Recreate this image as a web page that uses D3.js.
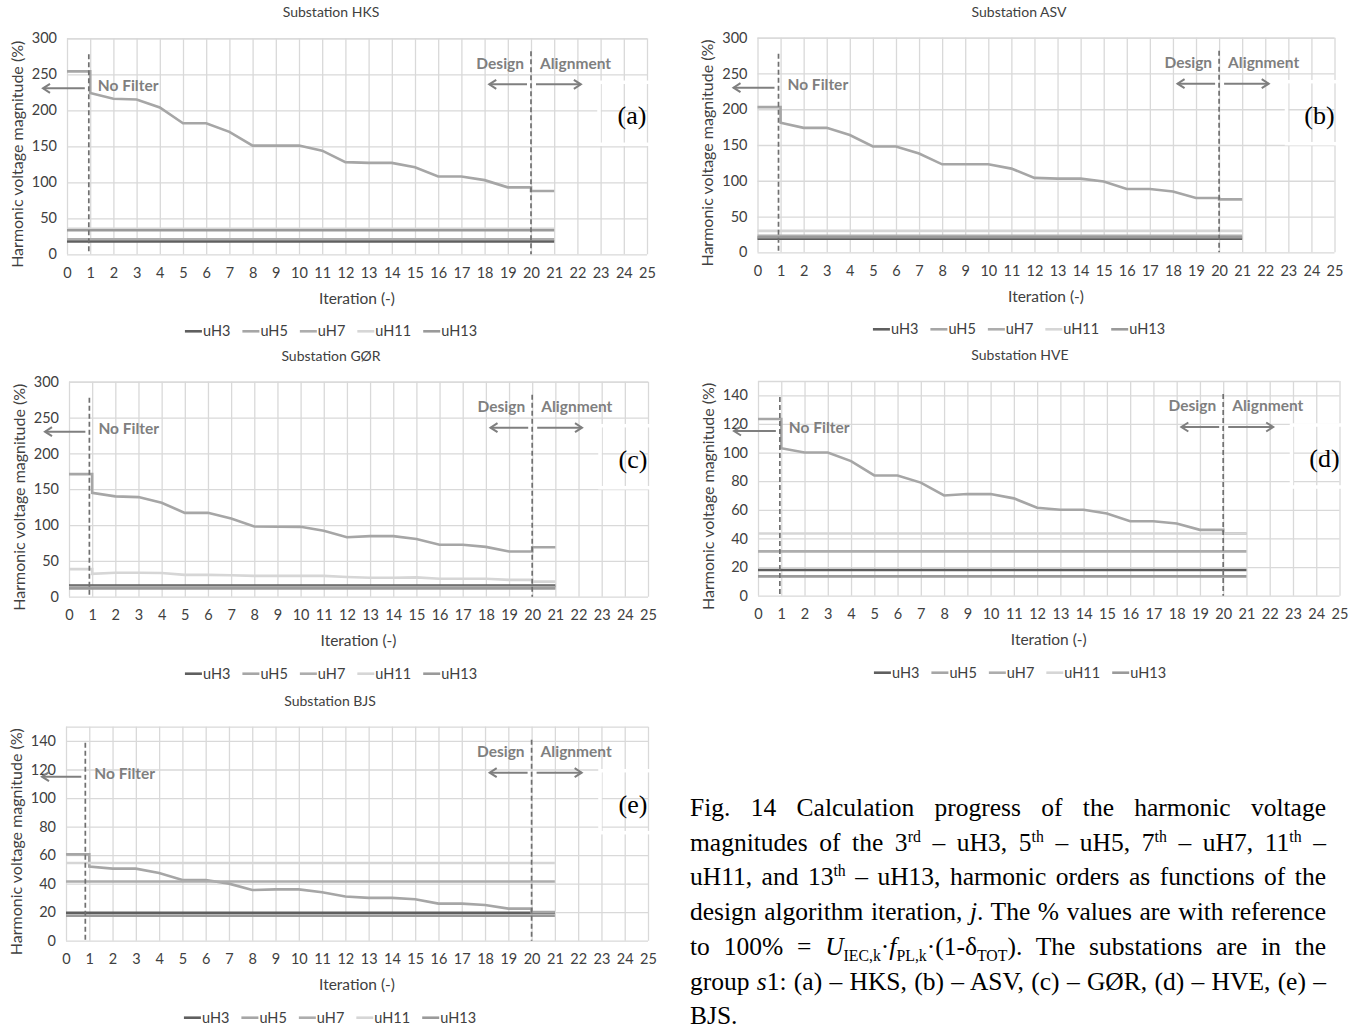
<!DOCTYPE html>
<html>
<head>
<meta charset="utf-8">
<script src="https://cdn.jsdelivr.net/npm/d3@7"></script>
<style>
  body { margin: 0; background: #fff; }
  #chart { position: absolute; left: 0; top: 0; }
  #caption {
    position: absolute; left: 690px; top: 791px; width: 636px;
    font-family: "Liberation Serif", "Times New Roman", serif;
    font-size: 25.5px; line-height: 34.7px; color: #000;
  }
  #caption div { text-align: justify; text-align-last: justify; white-space: nowrap; }
  #caption div.last { text-align-last: left; }
  #caption sup, #caption sub { font-size: 0.62em; line-height: 0; }
</style>
</head>
<body>
<svg id="chart" width="1368" height="1030"></svg>
<div id="caption"></div>
<script>
// iterations of the design algorithm (0 = no filter) and the alignment step
var iterations = [0, 1, 2, 3, 4, 5, 6, 7, 8, 9, 10, 11, 12, 13, 14, 15, 16, 17, 18, 19, 20];
var alignIterations = [20, 21];
var levelSpan = [0, 21];
var xTicks = [0, 1, 2, 3, 4, 5, 6, 7, 8, 9, 10, 11, 12, 13, 14, 15, 16, 17, 18, 19, 20, 21, 22, 23, 24, 25];
var harmonics = ['uH3', 'uH5', 'uH7', 'uH11', 'uH13'];
var substations = ['HKS', 'ASV', 'GØR', 'HVE', 'BJS'];
var tags = ['(a)', '(b)', '(c)', '(d)', '(e)'];

// HKS
var hksU5 = [254, 224, 216, 215, 204, 182, 182, 170, 151, 151, 151, 144, 128, 127, 127, 121, 108, 108, 103, 93, 93];
var hksU5Align = [88, 88];
var hksLevels = [18, null, 21, 35.5, 33.5];

// ASV
var asvU5 = [203, 181, 174, 174, 164, 148, 148, 138, 123, 123, 123, 117, 104, 103, 103, 99, 88.5, 88.5, 85, 76, 76];
var asvU5Align = [74, 74];
var asvLevels = [19, null, 23, 30, 21];

// GØR
var gorU5 = [171, 145, 140, 139, 131, 117, 117, 109, 98, 97.5, 97.5, 92, 83, 84.5, 84.5, 80.5, 72.5, 72.5, 69.5, 63, 63];
var gorU5Align = [69, 69];
var gorU11 = [38.5, 32, 33.5, 33.5, 33, 30.5, 30.5, 30, 29, 29, 29, 29, 27.5, 26.5, 26.5, 27, 25, 25, 25, 23.5, 23.5];
var gorU11Align = [21, 21];
var gorLevels = [15.5, null, 13.5, null, 11.5];

// HVE
var hveU5 = [123.5, 103, 100, 100, 94, 84, 84, 79, 70, 71, 71, 68, 61.5, 60, 60, 57.5, 52, 52, 50.5, 46, 46];
var hveU5Align = [43.5, 43.5];
var hveLevels = [18, null, 31, 43.5, 13.5];

// BJS
var bjsU5 = [60.5, 52, 50.5, 50.5, 47.5, 42.5, 42.5, 40, 35.5, 36, 36, 34, 31, 30, 30, 29, 26, 26, 25, 22.5, 22.5];
var bjsU5Align = [20, 20];
var bjsLevels = [19.5, null, 41.5, 54.5, 17.5];

var captionLines = [
  'Fig. 14 Calculation progress of the harmonic voltage',
  'magnitudes of the 3<sup>rd</sup> – uH3, 5<sup>th</sup> – uH5, 7<sup>th</sup> – uH7, 11<sup>th</sup> –',
  'uH11, and 13<sup>th</sup> – uH13, harmonic orders as functions of the',
  'design algorithm iteration, <i>j</i>. The % values are with reference',
  'to 100% = <i>U</i><sub>IEC,k</sub>·<i>f</i><sub>PL,k</sub>·(1-δ<sub>TOT</sub>). The substations are in the',
  'group <i>s</i>1: (a) – HKS, (b) – ASV, (c) – GØR, (d) – HVE, (e) –',
  'BJS.'
];

var colors = ['#5f5f5f', '#a6a6a6', '#adadad', '#d6d6d6', '#9a9a9a'];
var FONT = 'Lato, "Open Sans", sans-serif';
var gridColor = '#d9d9d9';
var noteColor = '#7f7f7f';
var textColor = '#404040';

var panels = [
  { left: 67, right: 647, top: 38.3, bottom: 254.3, cx: 331, yMax: 300, yStep: 50, nf: 0.94,
    series: { uH5: [hksU5, hksU5Align] }, levels: hksLevels },
  { left: 757.5, right: 1334.5, top: 37.7, bottom: 252.3, cx: 1019, yMax: 300, yStep: 50, nf: 0.91,
    series: { uH5: [asvU5, asvU5Align] }, levels: asvLevels },
  { left: 69, right: 648, top: 381.7, bottom: 596.7, cx: 331, yMax: 300, yStep: 50, nf: 0.88,
    series: { uH5: [gorU5, gorU5Align], uH11: [gorU11, gorU11Align] }, levels: gorLevels },
  { left: 758, right: 1339.5, top: 381, bottom: 595.7, cx: 1020, yMax: 150, yStep: 20, nf: 0.94,
    series: { uH5: [hveU5, hveU5Align] }, levels: hveLevels },
  { left: 66, right: 648, top: 726.7, bottom: 940.7, cx: 330, yMax: 150, yStep: 20, nf: 0.83,
    series: { uH5: [bjsU5, bjsU5Align] }, levels: bjsLevels }
];

var svg = d3.select('#chart');

function arrow(g, x1, x2, y) {
  var dir = x2 > x1 ? 1 : -1;
  g.append('line').attr('x1', x1).attr('x2', x2).attr('y1', y).attr('y2', y)
    .attr('stroke', noteColor).attr('stroke-width', 2);
  g.append('path')
    .attr('d', 'M' + (x2 - dir * 7) + ',' + (y - 4.5) + 'L' + x2 + ',' + y + 'L' + (x2 - dir * 7) + ',' + (y + 4.5))
    .attr('fill', 'none').attr('stroke', noteColor).attr('stroke-width', 2);
}

panels.forEach(function (p, i) {
  var g = svg.append('g');
  var x = d3.scaleLinear().domain([0, 25]).range([p.left, p.right]);
  var y = d3.scaleLinear().domain([0, p.yMax]).range([p.bottom, p.top]);
  var yTicks = d3.range(0, p.yMax + 0.001, p.yStep);
  var h = p.bottom - p.top, w = p.right - p.left;

  // grid
  g.append('g').attr('transform', 'translate(' + p.left + ',0)')
    .call(d3.axisLeft(y).tickValues(yTicks.concat([p.yMax])).tickSize(-w).tickFormat(''))
    .call(function (s) { s.select('.domain').remove(); s.selectAll('line').attr('stroke', gridColor).attr('stroke-width', 1.3); });
  g.append('g').attr('transform', 'translate(0,' + p.bottom + ')')
    .call(d3.axisBottom(x).tickValues(xTicks).tickSize(-h).tickFormat(''))
    .call(function (s) { s.select('.domain').remove(); s.selectAll('line').attr('stroke', gridColor).attr('stroke-width', 1.3); });

  // tick labels
  g.append('g').attr('transform', 'translate(0,' + p.bottom + ')')
    .call(d3.axisBottom(x).tickValues(xTicks).tickSize(0).tickPadding(13))
    .call(function (s) {
      s.select('.domain').remove();
      s.selectAll('text').attr('font-family', FONT).attr('font-size', 14.5).attr('fill', textColor);
    });
  g.append('g').attr('transform', 'translate(' + p.left + ',0)')
    .call(d3.axisLeft(y).tickValues(yTicks).tickSize(0).tickPadding(10))
    .call(function (s) {
      s.select('.domain').remove();
      s.selectAll('text').attr('font-family', FONT).attr('font-size', 14.5).attr('fill', textColor);
    });

  // titles
  g.append('text').attr('x', p.cx).attr('y', p.top - 26).attr('dy', '0.35em')
    .attr('text-anchor', 'middle').attr('font-family', FONT).attr('font-size', 14).attr('fill', textColor)
    .text('Substation ' + substations[i]);
  g.append('text').attr('x', (p.left + p.right) / 2).attr('y', p.bottom + 44).attr('dy', '0.35em')
    .attr('text-anchor', 'middle').attr('font-family', FONT).attr('font-size', 15.5).attr('fill', textColor)
    .text('Iteration (-)');
  g.append('text')
    .attr('transform', 'translate(' + (p.left - 50) + ',' + ((p.top + p.bottom) / 2 + 8) + ') rotate(-90)')
    .attr('dy', '0.35em').attr('text-anchor', 'middle').attr('font-family', FONT).attr('font-size', 16)
    .attr('fill', textColor).text('Harmonic voltage magnitude (%)');

  // series
  var line = d3.line().x(function (d) { return x(d[0]); }).y(function (d) { return y(d[1]); });
  harmonics.forEach(function (name, k) {
    var pts;
    if (p.series[name]) {
      var v = p.series[name][0], a = p.series[name][1];
      pts = [[iterations[0], v[0]], [iterations[1], v[0]]];
      iterations.slice(1).forEach(function (it, j) { pts.push([it, v[j + 1]]); });
      alignIterations.forEach(function (it, j) { pts.push([it, a[j]]); });
    } else if (p.levels[k] != null) {
      pts = levelSpan.map(function (it) { return [it, p.levels[k]]; });
    } else {
      return;
    }
    g.append('path').datum(pts).attr('d', line)
      .attr('fill', 'none').attr('stroke', colors[k]).attr('stroke-width', 2.6);
  });

  // annotations
  var nfX = x(p.nf), dX = x(20);
  g.append('line').attr('x1', nfX).attr('x2', nfX).attr('y1', p.top + 16).attr('y2', p.bottom)
    .attr('stroke', '#707070').attr('stroke-width', 1.7).attr('stroke-dasharray', '5,3');
  g.append('line').attr('x1', dX).attr('x2', dX).attr('y1', p.top + 13).attr('y2', p.bottom)
    .attr('stroke', '#707070').attr('stroke-width', 1.7).attr('stroke-dasharray', '5,3');

  g.append('text').attr('x', nfX + 9).attr('y', p.top + 47).attr('dy', '0.35em')
    .attr('font-family', FONT).attr('font-weight', 'bold').attr('font-size', 15.5).attr('fill', noteColor)
    .text('No Filter');
  arrow(g, nfX - 4, p.left - 24, p.top + 50);

  g.append('text').attr('x', dX - 7).attr('y', p.top + 25).attr('dy', '0.35em').attr('text-anchor', 'end')
    .attr('font-family', FONT).attr('font-weight', 'bold').attr('font-size', 15.5).attr('fill', noteColor)
    .text('Design');
  g.append('text').attr('x', dX + 9).attr('y', p.top + 25).attr('dy', '0.35em')
    .attr('font-family', FONT).attr('font-weight', 'bold').attr('font-size', 15.5).attr('fill', noteColor)
    .text('Alignment');
  arrow(g, dX - 4, x(18.2), p.top + 46);
  arrow(g, dX + 5, x(22.15), p.top + 46);

  // panel tag with white frame
  g.append('rect').attr('x', p.right - 48).attr('y', p.top + 44).attr('width', 80).attr('height', 62)
    .attr('fill', 'none').attr('stroke', '#fff').attr('stroke-width', 3.5);
  g.append('text').attr('x', p.right - 15).attr('y', p.top + 77).attr('dy', '0.35em').attr('text-anchor', 'middle')
    .attr('font-family', '"Liberation Serif", "Times New Roman", serif').attr('font-size', 26).attr('fill', '#000')
    .text(tags[i]);

  // legend
  var leg = g.append('g');
  var cursor = 0;
  harmonics.forEach(function (name, k) {
    var it = leg.append('g').attr('transform', 'translate(' + cursor + ',0)');
    it.append('line').attr('x1', 0).attr('x2', 17).attr('y1', 0).attr('y2', 0)
      .attr('stroke', colors[k]).attr('stroke-width', 2.6);
    var t = it.append('text').attr('x', 18).attr('dy', '0.35em').attr('font-family', FONT)
      .attr('font-size', 14.5).attr('fill', textColor).text(name);
    cursor += 18 + t.node().getComputedTextLength() + 12;
  });
  cursor -= 12;
  leg.attr('transform', 'translate(' + (p.cx - cursor / 2) + ',' + (p.bottom + 77) + ')');
});

d3.select('#caption').selectAll('div').data(captionLines).enter().append('div')
  .attr('class', function (d, i) { return i === captionLines.length - 1 ? 'last' : null; })
  .html(function (d) { return d; });
</script>
</body>
</html>
